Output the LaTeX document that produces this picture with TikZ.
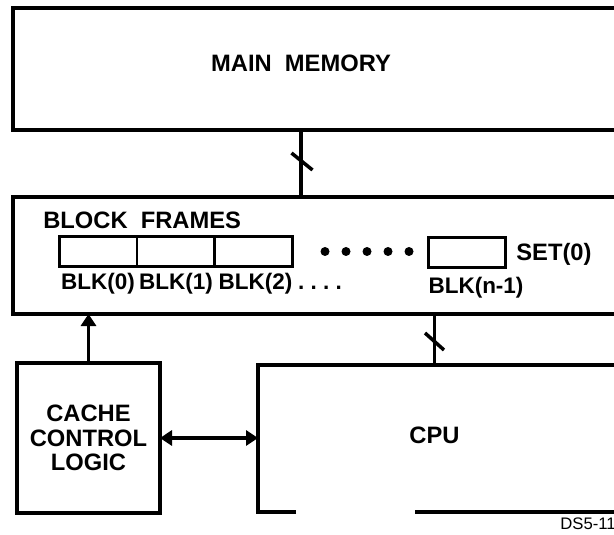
\documentclass[tikz,border=0pt]{standalone}
\usepackage{fontspec}
\setmainfont{Liberation Sans}
\usetikzlibrary{positioning,calc,arrows.meta}

\newcommand{\bigsf}{\fontsize{13.5}{13.9}\selectfont\bfseries}
\newcommand{\blksf}{\fontsize{12.8}{13.9}\selectfont\bfseries}
\newcommand{\smallsf}{\fontsize{9.5}{11}\selectfont}

\begin{document}
\begin{tikzpicture}[
    box/.style={draw, line width=2pt, inner sep=0pt, outer sep=0pt},
    blk/.style={draw, line width=1.7pt, inner sep=0pt, outer sep=0pt, minimum width=1.55cm, minimum height=0.59cm},
    lbl/.style={font=\bigsf, inner sep=0pt},
    blklbl/.style={font=\blksf, inner sep=0pt, anchor=base},
    wire/.style={line width=2pt},
    arr/.style={wire, -{Triangle[length=0.24cm, width=0.3cm]}},
    dblarr/.style={wire, {Triangle[length=0.24cm, width=0.3cm]}-{Triangle[length=0.24cm, width=0.3cm]}}
  ]
  \useasboundingbox (0,0) rectangle (12.28,10.68);
  \clip (0,0) rectangle (12.28,10.68);

  % Main memory
  \node[box, anchor=north west, minimum width=12.5cm, minimum height=2.44cm] (mem) at (0.26,10.52) {};
  \node[lbl] (memtxt) at (6.02,9.41) {MAIN\ \ MEMORY};

  % Block frames
  \node[box, anchor=north west, minimum width=12.5cm, minimum height=2.34cm] (frames) at (0.26,6.74) {};
  \node[lbl, anchor=west] (frmtxt) at (0.86,6.28) {BLOCK\ \ FRAMES};
  \node[blk, anchor=west] (blk0) at (1.19,5.65) {};
  \node[blk, right=0pt of blk0] (blk1) {};
  \node[blk, right=0pt of blk1] (blk2) {};
  \foreach \i in {0,...,4}
    \fill (6.5+0.42*\i, 5.65) circle (0.09);
  \node[blk, anchor=west, minimum width=1.53cm] (blkn) at (8.57,5.63) {};
  \node[lbl, anchor=base west] (settxt) at (10.32,5.46) {SET(0)};

  % Block labels
  \node[blklbl] (lbl0) at (1.96,4.88) {BLK(0)};
  \node[blklbl] (lbl1) at (3.52,4.88) {BLK(1)};
  \node[blklbl] (lbl2) at (5.11,4.88) {BLK(2)};
  \node[blklbl] (lbldots) at (6.4,4.88) {.\ .\ .\ .};
  \node[blklbl] (lbln) at (9.52,4.80) {BLK(n-1)};

  % Cache control logic
  \node[box, minimum width=2.86cm, minimum height=3.0cm] (cache) at (1.77,1.92) {};
  \node[lbl, align=center] (cachetxt) at (cache.center) {CACHE\\CONTROL\\LOGIC};

  % CPU
  \node[inner sep=0pt, outer sep=0pt, anchor=north west, minimum width=7.5cm, minimum height=2.94cm] (cpu) at (5.16,3.38) {};
  \draw[wire] ($(cpu.south west)+(0.76,0)$) -- (cpu.south west) -- (cpu.north west) -- (cpu.north east);
  \draw[wire] ($(cpu.south west)+(3.14,0)$) -- (cpu.south east);
  \node[lbl] (cputxt) at (8.69,1.98) {CPU};

  % Buses
  \draw[wire] (memtxt |- mem.south) -- (memtxt |- frames.north);
  \coordinate (bus1) at (6.04,7.45);
  \draw[wire] ($(bus1)+(-0.21,0.17)$) -- ($(bus1)+(0.21,-0.17)$);
  \draw[wire] (cputxt |- frames.south) -- (cputxt |- cpu.north);
  \coordinate (bus2) at (8.69,3.85);
  \draw[wire] ($(bus2)+(-0.19,0.17)$) -- ($(bus2)+(0.19,-0.17)$);

  % Control paths
  \draw[arr] (cache.north) -- (cache.north |- frames.south);
  \draw[dblarr] (cache.east) -- (cache.east -| cpu.west);

  \node[font=\smallsf, anchor=west, inner sep=0pt] (tag) at (11.2,0.2) {DS5-11};
\end{tikzpicture}
\end{document}
